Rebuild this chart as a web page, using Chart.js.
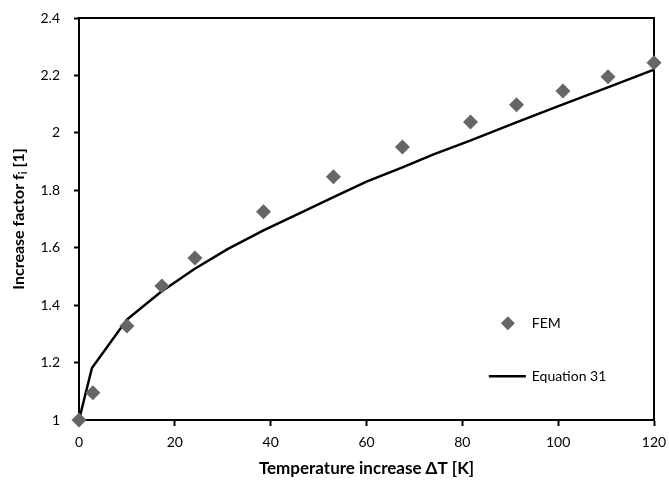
<!DOCTYPE html>
<html>
<head>
<meta charset="utf-8">
<style>
  html, body { margin: 0; padding: 0; background: #fff; }
  #wrap { width: 669px; height: 485px; }
</style>
<script src="https://cdn.jsdelivr.net/npm/chart.js@4"></script>
</head>
<body>
<div id="wrap"><canvas id="chart" width="669" height="485"></canvas></div>
<script>
// FEM results (temperature increase in K, increase factor)
const femX = [0, 2.9, 10, 17.3, 24.2, 38.5, 53.1, 67.5, 81.7, 91.3, 101, 110.4, 120];
const femY = [1.0, 1.095, 1.327, 1.467, 1.564, 1.725, 1.847, 1.951, 2.038, 2.098, 2.146, 2.195, 2.244];

// Equation 31 curve
const eqX = [0, 2.7, 10, 17, 24, 31, 38.5, 46, 53, 60, 67.5, 74, 81.5, 91, 101, 110.5, 120];
const eqY = [1.0, 1.181, 1.35, 1.445, 1.525, 1.595, 1.66, 1.72, 1.775, 1.83, 1.88, 1.925, 1.972, 2.035, 2.099, 2.159, 2.22];

const xTicks = [0, 20, 40, 60, 80, 100, 120];
const yTicks = [1, 1.2, 1.4, 1.6, 1.8, 2, 2.2, 2.4];

const legendLabels = ['FEM', 'Equation 31'];
const xTitle = 'Temperature increase ΔT [K]';

const FONT = 'Lato, "Open Sans", sans-serif';
const markerColor = '#666666';

function toPoints(xs, ys) {
    return xs.map((x, i) => ({ x: x, y: ys[i] }));
}

// 차트 영역 전체를 검은 테두리로 감싸기 (위쪽, 오른쪽 포함)
const boxPlugin = {
    id: 'box',
    beforeDatasetsDraw(chart) {
        const a = chart.chartArea;
        const ctx = chart.ctx;
        ctx.save();
        ctx.strokeStyle = '#000';
        ctx.lineWidth = 2;
        ctx.strokeRect(a.left, a.top, a.right - a.left, a.bottom - a.top);
        ctx.restore();
    }
};

// 세로축 제목: f 뒤에 아래첨자 i
const yTitlePlugin = {
    id: 'yTitle',
    afterDraw(chart) {
        const a = chart.chartArea;
        const ctx = chart.ctx;
        const big = 'bold 16px ' + FONT;
        const small = 'bold 11px ' + FONT;
        const parts = [
            { t: 'Increase factor f', f: big, dy: 0 },
            { t: 'i', f: small, dy: 4 },
            { t: ' [1]', f: big, dy: 0 }
        ];
        ctx.save();
        let total = 0;
        parts.forEach(p => { ctx.font = p.f; p.w = ctx.measureText(p.t).width; total += p.w; });
        ctx.translate(19, (a.top + a.bottom) / 2);
        ctx.rotate(-Math.PI / 2);
        ctx.fillStyle = '#000';
        ctx.textBaseline = 'middle';
        ctx.textAlign = 'left';
        let x = -total / 2;
        parts.forEach(p => {
            ctx.font = p.f;
            ctx.fillText(p.t, x, p.dy);
            x += p.w;
        });
        ctx.restore();
    }
};

// 차트 안쪽 오른쪽 아래에 범례 그리기
const legendPlugin = {
    id: 'innerLegend',
    afterDraw(chart) {
        const ctx = chart.ctx;
        const xs = chart.scales.x;
        const ys = chart.scales.y;
        // legend anchored in data space so it follows the scales
        const markX = xs.getPixelForValue(89.5);
        const textX = xs.getPixelForValue(94.5);
        const row1 = ys.getPixelForValue(1.337);
        const row2 = ys.getPixelForValue(1.152);
        ctx.save();
        ctx.fillStyle = markerColor;
        ctx.beginPath();
        ctx.moveTo(markX, row1 - 7);
        ctx.lineTo(markX + 7, row1);
        ctx.lineTo(markX, row1 + 7);
        ctx.lineTo(markX - 7, row1);
        ctx.closePath();
        ctx.fill();
        ctx.strokeStyle = '#000';
        ctx.lineWidth = 2.5;
        ctx.beginPath();
        ctx.moveTo(markX - 19, row2);
        ctx.lineTo(markX + 18, row2);
        ctx.stroke();
        ctx.fillStyle = '#000';
        ctx.font = '14px ' + FONT;
        ctx.textBaseline = 'middle';
        ctx.fillText(legendLabels[0], textX, row1);
        ctx.fillText(legendLabels[1], textX, row2);
        ctx.restore();
    }
};

new Chart(document.getElementById('chart'), {
    type: 'scatter',
    data: {
        datasets: [
            {
                label: legendLabels[1],
                data: toPoints(eqX, eqY),
                showLine: true,
                borderColor: '#000',
                borderWidth: 2.5,
                pointRadius: 0,
                tension: 0,
                order: 2
            },
            {
                label: legendLabels[0],
                data: toPoints(femX, femY),
                showLine: false,
                pointStyle: 'rectRot',
                pointRadius: 7.5,
                pointHoverRadius: 7.5,
                backgroundColor: markerColor,
                borderColor: markerColor,
                borderWidth: 0,
                order: 1
            }
        ]
    },
    options: {
        responsive: false,
        animation: false,
        clip: false,
        layout: { padding: { top: 18, right: 15, left: 0, bottom: 0 } },
        plugins: {
            legend: { display: false },
            tooltip: { enabled: false }
        },
        scales: {
            x: {
                type: 'linear',
                min: 0,
                max: 120,
                afterBuildTicks: s => { s.ticks = xTicks.map(v => ({ value: v })); },
                afterFit: s => { s.height = 65; s.paddingLeft = 0; s.paddingRight = 0; },
                border: { color: '#000', width: 2 },
                grid: { drawOnChartArea: false, drawTicks: true, tickLength: 6, tickWidth: 2, color: '#000' },
                ticks: { color: '#000', font: { family: FONT, size: 14 }, padding: 8, callback: v => String(v) },
                title: {
                    display: true,
                    text: xTitle,
                    color: '#000',
                    font: { family: FONT, size: 17, weight: 'bold' },
                    padding: { top: 0, bottom: 6 }
                }
            },
            y: {
                type: 'linear',
                min: 1,
                max: 2.4,
                afterBuildTicks: s => { s.ticks = yTicks.map(v => ({ value: v })); },
                afterFit: s => { s.width = 79; s.paddingTop = 0; s.paddingBottom = 0; },
                border: { color: '#000', width: 2 },
                grid: { drawOnChartArea: false, drawTicks: true, tickLength: 5, tickWidth: 2, color: '#000' },
                ticks: { color: '#000', font: { family: FONT, size: 14 }, padding: 14, callback: v => String(v) }
            }
        }
    },
    plugins: [boxPlugin, yTitlePlugin, legendPlugin]
});
</script>
</body>
</html>
